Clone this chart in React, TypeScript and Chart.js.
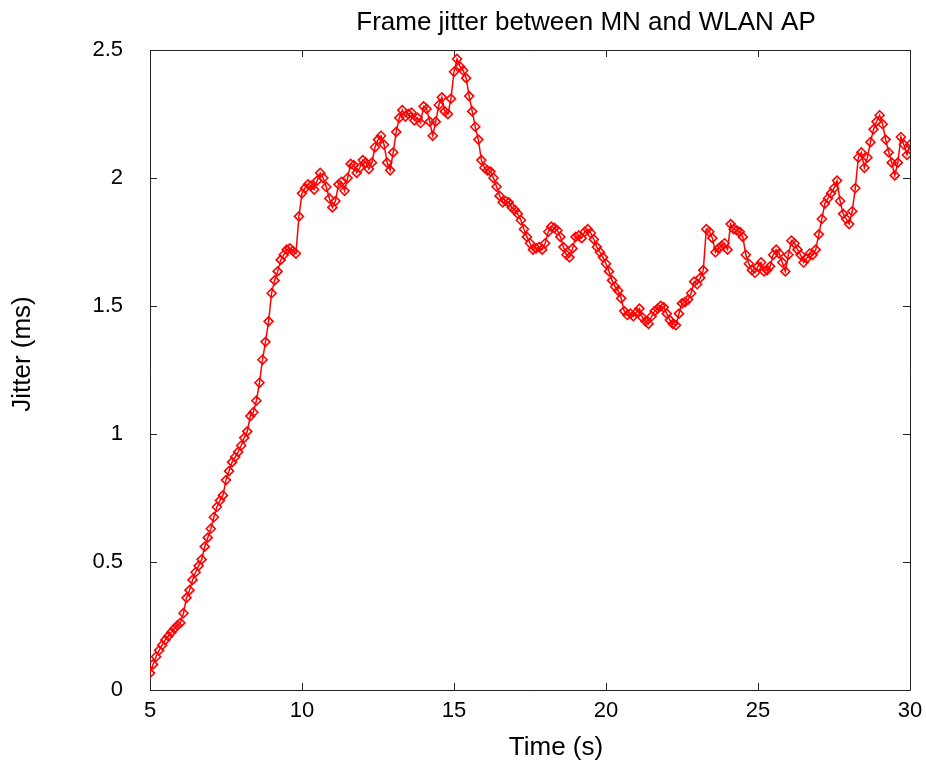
import React, { useEffect, useRef } from "react";
import { Chart, registerables } from "chart.js";

Chart.register(...registerables);

// Sampling of the trace (seconds)
const START_TIME = 5;
const TIME_STEP = 0.1;

// Jitter (ms), one value every 0.1 s
const jitter05to10 = [
  0.066, 0.10, 0.13, 0.155, 0.175, 0.195, 0.21, 0.225, 0.24, 0.252,
  0.262, 0.30, 0.36, 0.39, 0.43, 0.46, 0.485, 0.51, 0.56, 0.595,
  0.63, 0.675, 0.715, 0.74, 0.76, 0.82, 0.855, 0.89, 0.91, 0.93,
  0.955, 0.985, 1.01, 1.07, 1.085, 1.13, 1.20, 1.29, 1.36, 1.44,
  1.55, 1.60, 1.635, 1.68, 1.70, 1.72, 1.725, 1.715, 1.705, 1.85,
];
const jitter10to15 = [
  1.94, 1.96, 1.975, 1.97, 1.955, 1.99, 2.02, 2.0, 1.965, 1.92,
  1.885, 1.91, 1.975, 1.985, 1.95, 2.0, 2.055, 2.05, 2.02, 2.04,
  2.07, 2.06, 2.035, 2.06, 2.12, 2.15, 2.165, 2.13, 2.06, 2.03,
  2.1, 2.18, 2.235, 2.265, 2.24, 2.25, 2.255, 2.225, 2.235, 2.215,
  2.28, 2.27, 2.22, 2.165, 2.22, 2.285, 2.315, 2.26, 2.25, 2.31,
];
const jitter15to20 = [
  2.415, 2.465, 2.435, 2.42, 2.39, 2.32, 2.26, 2.20, 2.15, 2.07,
  2.04, 2.03, 2.025, 2.0, 1.966, 1.93, 1.905, 1.91, 1.905, 1.885,
  1.875, 1.86, 1.835, 1.80, 1.77, 1.745, 1.72, 1.725, 1.73, 1.72,
  1.745, 1.79, 1.81, 1.805, 1.795, 1.77, 1.73, 1.70, 1.69, 1.725,
  1.77, 1.775, 1.765, 1.79, 1.80, 1.785, 1.76, 1.73, 1.71, 1.69,
];
const jitter20to25 = [
  1.665, 1.635, 1.60, 1.575, 1.56, 1.53, 1.48, 1.465, 1.47, 1.46,
  1.475, 1.49, 1.455, 1.44, 1.43, 1.46, 1.48, 1.49, 1.50, 1.495,
  1.47, 1.445, 1.43, 1.425, 1.47, 1.51, 1.515, 1.525, 1.55, 1.595,
  1.585, 1.61, 1.64, 1.80, 1.79, 1.765, 1.71, 1.725, 1.735, 1.745,
  1.72, 1.82, 1.80, 1.795, 1.79, 1.77, 1.70, 1.665, 1.64, 1.63,
];
const jitter25to30 = [
  1.655, 1.67, 1.635, 1.64, 1.655, 1.70, 1.72, 1.705, 1.67, 1.635,
  1.70, 1.755, 1.745, 1.72, 1.70, 1.67, 1.685, 1.705, 1.70, 1.72,
  1.78, 1.84, 1.90, 1.92, 1.94, 1.96, 1.99, 1.91, 1.86, 1.84,
  1.82, 1.87, 1.96, 2.08, 2.10, 2.04, 2.08, 2.14, 2.19, 2.22,
  2.245, 2.21, 2.15, 2.10, 2.06, 2.01, 2.06, 2.16, 2.13, 2.09,
  2.13,
];

const xTicks = [5, 10, 15, 20, 25, 30];
const yTicks = [0, 0.5, 1, 1.5, 2, 2.5];

const TITLE = "Frame jitter between MN and WLAN AP";
const X_LABEL = "Time (s)";
const Y_LABEL = "Jitter (ms)";

const FONT = "'Liberation Sans', Arial, sans-serif";
const RED = "#ff0000";

const framePlugin = {
  id: "gnuplotFrame",
  beforeDatasetsDraw(chart: any) {
    const { ctx, chartArea } = chart;
    const { left, right, top, bottom } = chartArea;
    const xs = chart.scales.x;
    const ys = chart.scales.y;
    const tl = 7;
    ctx.save();
    ctx.strokeStyle = "#222";
    ctx.lineWidth = 1;
    ctx.beginPath();
    ctx.rect(Math.round(left) + 0.5, Math.round(top) + 0.5, Math.round(right - left), Math.round(bottom - top));
    for (const v of xTicks) {
      const px = Math.round(xs.getPixelForValue(v)) + 0.5;
      ctx.moveTo(px, bottom);
      ctx.lineTo(px, bottom - tl);
      ctx.moveTo(px, top);
      ctx.lineTo(px, top + tl);
    }
    for (const v of yTicks) {
      const py = Math.round(ys.getPixelForValue(v)) + 0.5;
      ctx.moveTo(left, py);
      ctx.lineTo(left + tl, py);
      ctx.moveTo(right, py);
      ctx.lineTo(right - tl, py);
    }
    ctx.stroke();

    ctx.fillStyle = "#000";
    ctx.font = `26px ${FONT}`;
    ctx.textAlign = "center";
    ctx.textBaseline = "alphabetic";
    ctx.fillText(TITLE, 586, 30);
    ctx.fillText(X_LABEL, 556, 755);
    ctx.save();
    ctx.translate(30, 354);
    ctx.rotate(-Math.PI / 2);
    ctx.fillText(Y_LABEL, 0, 0);
    ctx.restore();
    ctx.restore();
  },
};

export default function App() {
  const canvasRef = useRef<HTMLCanvasElement | null>(null);

  useEffect(() => {
    const canvas = canvasRef.current;
    if (!canvas) return;
    const values = [
      ...jitter05to10,
      ...jitter10to15,
      ...jitter15to20,
      ...jitter20to25,
      ...jitter25to30,
    ];
    const points = values.map((v, i) => ({
      x: Number((START_TIME + i * TIME_STEP).toFixed(2)),
      y: v,
    }));

    const chart = new Chart(canvas, {
      type: "line",
      data: {
        datasets: [
          {
            label: "jitter",
            data: points,
            borderColor: RED,
            borderWidth: 1.5,
            backgroundColor: "rgba(255,0,0,0)",
            pointStyle: "rectRot",
            pointRadius: 4.5,
            pointBorderWidth: 1.6,
            pointBorderColor: RED,
            pointBackgroundColor: "rgba(255,0,0,0)",
            pointHoverBorderColor: RED,
            pointHoverBackgroundColor: "rgba(255,0,0,0)",
            tension: 0,
            fill: false,
          },
        ],
      },
      options: {
        responsive: false,
        animation: false,
        devicePixelRatio: 1,
        events: [],
        layout: { padding: { top: 50, right: 16, left: 0, bottom: 0 } },
        plugins: {
          legend: { display: false },
          title: { display: false },
          tooltip: { enabled: false },
        },
        scales: {
          x: {
            type: "linear",
            min: 5,
            max: 30,
            afterBuildTicks: (scale: any) => {
              scale.ticks = xTicks.map((v) => ({ value: v }));
            },
            afterFit: (scale: any) => {
              scale.height = 74;
              scale.paddingLeft = 0;
              scale.paddingRight = 0;
            },
            grid: { display: false, drawTicks: false },
            border: { display: false },
            ticks: {
              color: "#000",
              font: { family: FONT, size: 22 },
              padding: 8,
              maxRotation: 0,
              autoSkip: false,
              callback: (v: any) => String(v),
            },
          },
          y: {
            type: "linear",
            min: 0,
            max: 2.5,
            afterBuildTicks: (scale: any) => {
              scale.ticks = yTicks.map((v) => ({ value: v }));
            },
            afterFit: (scale: any) => {
              scale.width = 150;
              scale.paddingTop = 0;
              scale.paddingBottom = 0;
            },
            grid: { display: false, drawTicks: false },
            border: { display: false },
            ticks: {
              color: "#000",
              font: { family: FONT, size: 22 },
              padding: 27,
              autoSkip: false,
              callback: (v: any) => String(v),
            },
          },
        },
      },
      plugins: [framePlugin],
    });

    return () => chart.destroy();
  }, []);

  return (
    <div style={{ position: "fixed", left: 0, top: 0, width: 926, height: 764, background: "#fff" }}>
      <canvas ref={canvasRef} width={926} height={764} />
    </div>
  );
}
